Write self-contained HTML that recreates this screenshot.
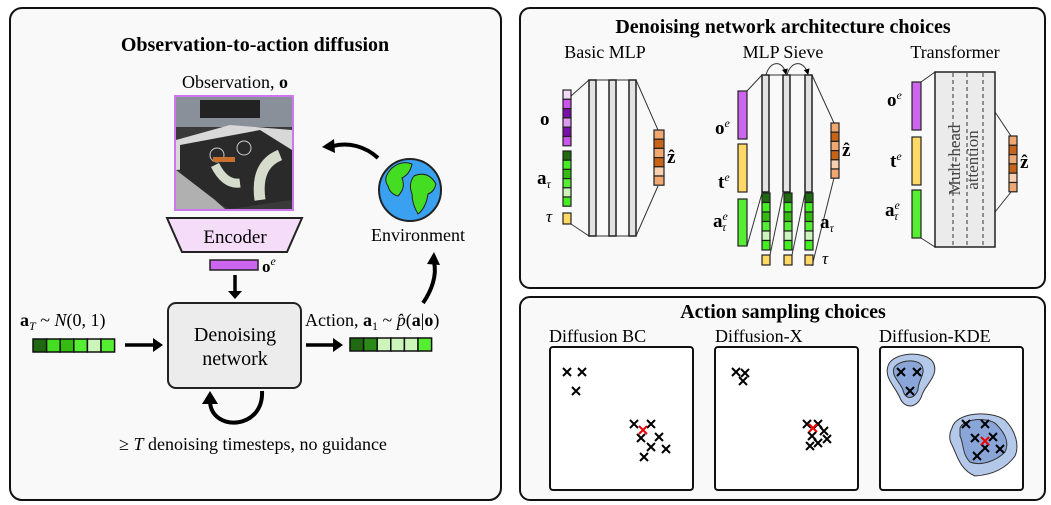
<!DOCTYPE html>
<html><head><meta charset="utf-8"><style>
html,body{margin:0;padding:0;background:#fff;}
svg{display:block;font-family:"Liberation Serif",serif;}
</style></head><body>
<svg width="1051" height="505" viewBox="0 0 1051 505" xmlns="http://www.w3.org/2000/svg">
<defs>
<marker id="sa" markerWidth="6" markerHeight="6" refX="5" refY="3" orient="auto" markerUnits="userSpaceOnUse"><path d="M0,0 L6,3 L0,6 z" fill="#000"/></marker>
<g id="x"><path d="M-4,-4 L4,4 M4,-4 L-4,4" stroke="#000" stroke-width="2"/></g>
<g id="xr"><path d="M-4,-4 L4,4 M4,-4 L-4,4" stroke="#e00" stroke-width="2"/></g>
</defs>
<rect width="1051" height="505" fill="#fff"/>
<rect x="10" y="8" width="491" height="492" rx="12" fill="#f9f9f9" stroke="#111" stroke-width="2"/>
<rect x="520" y="8" width="525" height="280" rx="10" fill="#f9f9f9" stroke="#111" stroke-width="2"/>
<rect x="520" y="297" width="525" height="203" rx="10" fill="#f9f9f9" stroke="#111" stroke-width="2"/>

<!-- LEFT -->
<text x="255" y="51" font-size="20" font-weight="bold" text-anchor="middle">Observation-to-action diffusion</text>
<text x="235" y="88" font-size="18" text-anchor="middle">Observation, <tspan font-weight="bold">o</tspan></text>
<rect x="175" y="96" width="118" height="114" fill="#3a3a3a" stroke="#cc77ee" stroke-width="2"/>
<rect x="176" y="97" width="116" height="30" fill="#8a9099"/>
<rect x="200" y="100" width="60" height="18" fill="#222"/>
<polygon points="176,140 230,125 292,130 292,160 176,170" fill="#d8d8d8"/>
<polygon points="180,145 260,130 292,150 292,200 230,209 180,185" fill="#2a2a2a"/>
<polygon points="176,170 215,200 225,209 176,209" fill="#b0b0b0"/>
<circle cx="217" cy="155" r="7" fill="none" stroke="#ccc"/><circle cx="244" cy="148" r="7" fill="none" stroke="#ccc"/>
<rect x="213" y="157" width="22" height="5" fill="#c87030"/>
<path d="M215,165 q10,20 25,18" stroke="#d5dccc" stroke-width="9" fill="none"/>
<path d="M280,155 q-25,10 -20,45" stroke="#d5dccc" stroke-width="11" fill="none"/>
<polygon points="167,218 302,218 287,252 182,252" fill="#f5dcf8" stroke="#222" stroke-width="2"/>
<text x="235" y="243" font-size="19" text-anchor="middle">Encoder</text>
<rect x="210" y="260" width="48" height="10" fill="#cc66ee" stroke="#222" stroke-width="1.5"/>
<text x="262" y="272" font-size="17" font-weight="bold">o<tspan font-weight="normal" font-style="italic" font-size="12" dy="-7">e</tspan></text>
<line x1="235" y1="275" x2="235" y2="292" stroke="#000" stroke-width="3.5"/>
<polygon points="228,291 242,291 235,299" fill="#000"/>
<rect x="168" y="303" width="133" height="85" rx="8" fill="#ececec" stroke="#222" stroke-width="2"/>
<text x="235" y="341" font-size="20" text-anchor="middle">Denoising</text>
<text x="235" y="365" font-size="20" text-anchor="middle">network</text>
<text x="20" y="326" font-size="18"><tspan font-weight="bold">a</tspan><tspan font-style="italic" font-size="12" dy="4">T</tspan><tspan dy="-4"> ~ </tspan><tspan font-style="italic">N</tspan>(0, 1)</text>
<g stroke="#111" stroke-width="1.5">
<rect x="33" y="339" width="13.6" height="13" fill="#1f6a10"/><rect x="46.6" y="339" width="13.6" height="13" fill="#44dd22"/><rect x="60.2" y="339" width="13.6" height="13" fill="#33bb11"/><rect x="73.8" y="339" width="13.6" height="13" fill="#55ee33"/><rect x="87.4" y="339" width="13.6" height="13" fill="#ccf5bb"/><rect x="101" y="339" width="13.6" height="13" fill="#55ee33"/>
</g>
<line x1="125" y1="345" x2="154" y2="345" stroke="#000" stroke-width="3.5"/><polygon points="153,338 163,345 153,352" fill="#000"/>
<line x1="306" y1="345" x2="334" y2="345" stroke="#000" stroke-width="3.5"/><polygon points="333,338 343,345 333,352" fill="#000"/>
<text x="305" y="326" font-size="18">Action, <tspan font-weight="bold">a</tspan><tspan font-size="12" dy="4">1</tspan><tspan dy="-4"> ~ </tspan><tspan font-style="italic">p̂</tspan>(<tspan font-weight="bold">a</tspan>|<tspan font-weight="bold">o</tspan>)</text>
<g stroke="#111" stroke-width="1.5">
<rect x="350" y="338" width="13.6" height="13" fill="#1f6a10"/><rect x="363.6" y="338" width="13.6" height="13" fill="#2a8a18"/><rect x="377.2" y="338" width="13.6" height="13" fill="#ccf5bb"/><rect x="390.8" y="338" width="13.6" height="13" fill="#ccf5bb"/><rect x="404.4" y="338" width="13.6" height="13" fill="#ccf5bb"/><rect x="418" y="338" width="13.6" height="13" fill="#55ee33"/>
</g>
<path d="M262,391 C264,430 212,432 210,402" fill="none" stroke="#000" stroke-width="4"/>
<polygon points="202,404 210,391 218,404" fill="#000"/>
<text x="253" y="450" font-size="18" text-anchor="middle">≥ <tspan font-style="italic">T</tspan> denoising timesteps, no guidance</text>
<circle cx="410" cy="190" r="31" fill="#3aa0f0" stroke="#222" stroke-width="2"/>
<path d="M392,168 q10,-8 20,-4 q-2,10 -10,14 q4,10 -4,18 q-8,-2 -10,-10 q-6,-8 4,-18z" fill="#44dd22" stroke="#222"/>
<path d="M414,176 q14,-6 22,8 q-2,8 -8,10 q-2,14 -10,20 q-6,-10 -6,-20 q-4,-10 2,-18z" fill="#44dd22" stroke="#222"/>
<text x="418" y="241" font-size="18" text-anchor="middle">Environment</text>
<path d="M378,158 C365,146 348,142 333,146" fill="none" stroke="#000" stroke-width="4"/>
<polygon points="334,139 322,147 335,153" fill="#000"/>
<path d="M423,303 C432,290 437,275 434,262" fill="none" stroke="#000" stroke-width="4"/>
<polygon points="427,264 434,252 440,265" fill="#000"/>

<!-- RIGHT TOP -->
<text x="783" y="33" font-size="20" font-weight="bold" text-anchor="middle">Denoising network architecture choices</text>
<text x="605" y="58" font-size="18" text-anchor="middle">Basic MLP</text>
<text x="783" y="58" font-size="18" text-anchor="middle">MLP Sieve</text>
<text x="955" y="58" font-size="18" text-anchor="middle">Transformer</text>
<g stroke="#333" stroke-width="1">
<line x1="571" y1="96" x2="589" y2="80"/><line x1="571" y1="224" x2="589" y2="236"/>
<line x1="589" y1="80" x2="636" y2="80"/><line x1="589" y1="236" x2="636" y2="236"/>
<line x1="636" y1="80" x2="658" y2="130"/><line x1="636" y1="236" x2="658" y2="186"/>
</g>
<g stroke="#222" stroke-width="1.5" fill="#e2e2e2">
<rect x="589" y="80" width="7" height="156"/><rect x="609" y="80" width="7" height="156"/><rect x="629" y="80" width="7" height="156"/>
</g>
<g stroke="#222" stroke-width="1.2">
<rect x="563" y="90" width="8" height="9.3" fill="#f3d8fa"/><rect x="563" y="99.3" width="8" height="9.3" fill="#cc55ee"/><rect x="563" y="108.6" width="8" height="9.3" fill="#7a10aa"/><rect x="563" y="117.9" width="8" height="9.3" fill="#dd99ee"/><rect x="563" y="127.2" width="8" height="9.3" fill="#7a10aa"/><rect x="563" y="136.5" width="8" height="9.3" fill="#cc55ee"/>
<rect x="563" y="151" width="8" height="9.2" fill="#1f6a10"/><rect x="563" y="160.2" width="8" height="9.2" fill="#44ee22"/><rect x="563" y="169.4" width="8" height="9.2" fill="#33bb11"/><rect x="563" y="178.6" width="8" height="9.2" fill="#55ee33"/><rect x="563" y="187.8" width="8" height="9.2" fill="#ccf5bb"/><rect x="563" y="197" width="8" height="9.2" fill="#44ee22"/>
<rect x="563" y="213" width="8" height="11" fill="#ffd966"/>
<rect x="654" y="130" width="10" height="9.2" fill="#f0a870"/><rect x="654" y="139.2" width="10" height="9.2" fill="#c86418"/><rect x="654" y="148.4" width="10" height="9.2" fill="#f0a870"/><rect x="654" y="157.6" width="10" height="9.2" fill="#c86418"/><rect x="654" y="166.8" width="10" height="9.2" fill="#f8d0b0"/><rect x="654" y="176" width="10" height="9.2" fill="#f0a870"/>
</g>
<text x="540" y="125" font-size="19" font-weight="bold">o</text>
<text x="537" y="184" font-size="19"><tspan font-weight="bold">a</tspan><tspan font-style="italic" font-size="12" dy="4">τ</tspan></text>
<text x="546" y="222" font-size="17" font-style="italic">τ</text>
<text x="667" y="163" font-size="19" font-weight="bold">ẑ</text>
<g stroke="#333" stroke-width="1" fill="none">
<line x1="747" y1="91" x2="762" y2="75"/><line x1="747" y1="246" x2="762" y2="193"/>
<line x1="762" y1="75" x2="812" y2="75"/>
<line x1="812" y1="75" x2="834" y2="123"/><line x1="812" y1="266" x2="834" y2="178"/>
<line x1="770" y1="255" x2="783" y2="193"/><line x1="792" y1="255" x2="805" y2="193"/>
<path d="M766,75 C770,60 783,60 786,74" marker-end="url(#sa)"/>
<path d="M787,75 C791,60 804,60 808,74" marker-end="url(#sa)"/>
</g>
<g stroke="#222" stroke-width="1.5" fill="#e2e2e2">
<rect x="762" y="75" width="7" height="117"/><rect x="783" y="75" width="7" height="117"/><rect x="805" y="75" width="7" height="117"/>
</g>
<g stroke="#222" stroke-width="1.2">
<rect x="738" y="91" width="9" height="48" fill="#cc66ee"/>
<rect x="738" y="144" width="9" height="48" fill="#ffd966"/>
<rect x="738" y="199" width="9" height="47" fill="#55ee33"/>
<rect x="831" y="123" width="8" height="9.2" fill="#f0a870"/><rect x="831" y="132.2" width="8" height="9.2" fill="#c86418"/><rect x="831" y="141.4" width="8" height="9.2" fill="#f0a870"/><rect x="831" y="150.6" width="8" height="9.2" fill="#c86418"/><rect x="831" y="159.8" width="8" height="9.2" fill="#f8d0b0"/><rect x="831" y="169" width="8" height="9.2" fill="#f0a870"/>
</g>
<g stroke="#222" stroke-width="1.2">
<g id="gs"><rect x="762" y="193" width="8" height="9.5" fill="#1f6a10"/><rect x="762" y="202.5" width="8" height="9.5" fill="#44ee22"/><rect x="762" y="212" width="8" height="9.5" fill="#33bb11"/><rect x="762" y="221.5" width="8" height="9.5" fill="#55ee33"/><rect x="762" y="231" width="8" height="9.5" fill="#ccf5bb"/><rect x="762" y="240.5" width="8" height="9.5" fill="#44ee22"/><rect x="762" y="255" width="8" height="10" fill="#ffd966"/></g>
<use href="#gs" x="22"/><use href="#gs" x="43"/>
</g>
<text x="715" y="134" font-size="19" font-weight="bold">o<tspan font-weight="normal" font-style="italic" font-size="12" dy="-7">e</tspan></text>
<text x="718" y="188" font-size="19" font-weight="bold">t<tspan font-weight="normal" font-style="italic" font-size="12" dy="-7">e</tspan></text>
<text x="713" y="227" font-size="19"><tspan font-weight="bold">a</tspan><tspan font-style="italic" font-size="12" dy="-7">e</tspan><tspan font-style="italic" font-size="12" dx="-6" dy="11">τ</tspan></text>
<text x="820" y="228" font-size="19"><tspan font-weight="bold">a</tspan><tspan font-style="italic" font-size="12" dy="4">τ</tspan></text>
<text x="822" y="264" font-size="17" font-style="italic">τ</text>
<text x="842" y="156" font-size="19" font-weight="bold">ẑ</text>
<g stroke="#333" stroke-width="1">
<line x1="921" y1="82" x2="935" y2="72"/><line x1="921" y1="238" x2="935" y2="247"/>
<line x1="995" y1="112" x2="1011" y2="136"/><line x1="995" y1="212" x2="1011" y2="192"/>
</g>
<rect x="935" y="72" width="60" height="175" fill="#ebebeb" stroke="#222" stroke-width="1.5"/>
<g stroke="#333" stroke-width="1" stroke-dasharray="4,3"><line x1="953" y1="73" x2="953" y2="246"/><line x1="967" y1="73" x2="967" y2="246"/><line x1="983" y1="73" x2="983" y2="246"/></g>
<text transform="translate(960,160) rotate(-90)" font-size="17" fill="#444" text-anchor="middle">Mult-head</text>
<text transform="translate(978,160) rotate(-90)" font-size="17" fill="#444" text-anchor="middle">attention</text>
<g stroke="#222" stroke-width="1.2">
<rect x="912" y="82" width="9" height="48" fill="#cc66ee"/>
<rect x="912" y="137" width="9" height="48" fill="#ffd966"/>
<rect x="912" y="190" width="9" height="48" fill="#55ee33"/>
<rect x="1009" y="136" width="8" height="9.3" fill="#f0a870"/><rect x="1009" y="145.3" width="8" height="9.3" fill="#c86418"/><rect x="1009" y="154.6" width="8" height="9.3" fill="#f0a870"/><rect x="1009" y="163.9" width="8" height="9.3" fill="#c86418"/><rect x="1009" y="173.2" width="8" height="9.3" fill="#f8d0b0"/><rect x="1009" y="182.5" width="8" height="9.3" fill="#f0a870"/>
</g>
<text x="887" y="106" font-size="19" font-weight="bold">o<tspan font-weight="normal" font-style="italic" font-size="12" dy="-7">e</tspan></text>
<text x="890" y="167" font-size="19" font-weight="bold">t<tspan font-weight="normal" font-style="italic" font-size="12" dy="-7">e</tspan></text>
<text x="885" y="216" font-size="19"><tspan font-weight="bold">a</tspan><tspan font-style="italic" font-size="12" dy="-7">e</tspan><tspan font-style="italic" font-size="12" dx="-6" dy="11">τ</tspan></text>
<text x="1020" y="168" font-size="19" font-weight="bold">ẑ</text>

<!-- RIGHT BOTTOM -->
<text x="783" y="318" font-size="20" font-weight="bold" text-anchor="middle">Action sampling choices</text>
<text x="549" y="342" font-size="18">Diffusion BC</text>
<text x="715" y="342" font-size="18">Diffusion-X</text>
<text x="879" y="342" font-size="18">Diffusion-KDE</text>
<g fill="#fff" stroke="#111" stroke-width="2">
<rect x="550" y="347" width="143" height="143" rx="3"/>
<rect x="715" y="347" width="143" height="143" rx="3"/>
<rect x="880" y="347" width="143" height="143" rx="3"/>
</g>
<path d="M888,366 C892,352 925,350 933,362 C940,375 925,385 922,395 C918,408 905,410 900,398 C895,386 884,378 888,366z" fill="#b4c8ea" stroke="#333" stroke-width="1"/>
<path d="M894,368 C898,360 918,358 922,366 C926,374 918,380 918,390 C914,400 905,400 903,390 C900,382 891,376 894,368z" fill="#8aa6d8" stroke="#333" stroke-width="1"/>
<path d="M952,428 C956,412 990,410 1005,420 C1015,430 1020,445 1015,456 C1005,470 990,475 975,476 C960,470 957,455 952,445 C948,438 950,432 952,428z" fill="#b4c8ea" stroke="#333" stroke-width="1"/>
<path d="M960,428 C964,418 988,417 996,424 C1004,432 1010,442 1005,452 C995,462 980,466 970,462 C962,454 964,444 960,436z" fill="#8aa6d8" stroke="#333" stroke-width="1"/>
<g>
<use href="#x" x="567" y="372"/><use href="#x" x="582" y="372"/><use href="#x" x="576" y="391"/>
<use href="#x" x="634" y="424"/><use href="#x" x="651" y="424"/><use href="#x" x="641" y="438"/><use href="#x" x="659" y="437"/><use href="#x" x="651" y="447"/><use href="#x" x="666" y="449"/><use href="#x" x="644" y="457"/><use href="#xr" x="643" y="430"/>
<use href="#x" x="736" y="372"/><use href="#x" x="745" y="373"/><use href="#x" x="743" y="381"/>
<use href="#x" x="807" y="424"/><use href="#x" x="818" y="424"/><use href="#x" x="824" y="431"/><use href="#x" x="812" y="436"/><use href="#x" x="827" y="439"/><use href="#x" x="810" y="446"/><use href="#x" x="818" y="443"/><use href="#xr" x="813" y="428"/>
<use href="#x" x="901" y="372"/><use href="#x" x="917" y="372"/><use href="#x" x="910" y="391"/>
<use href="#x" x="966" y="424"/><use href="#x" x="985" y="424"/><use href="#x" x="975" y="438"/><use href="#x" x="993" y="437"/><use href="#x" x="985" y="448"/><use href="#x" x="1000" y="449"/><use href="#x" x="977" y="456"/><use href="#xr" x="985" y="441"/>
</g>
</svg>
</body></html>
